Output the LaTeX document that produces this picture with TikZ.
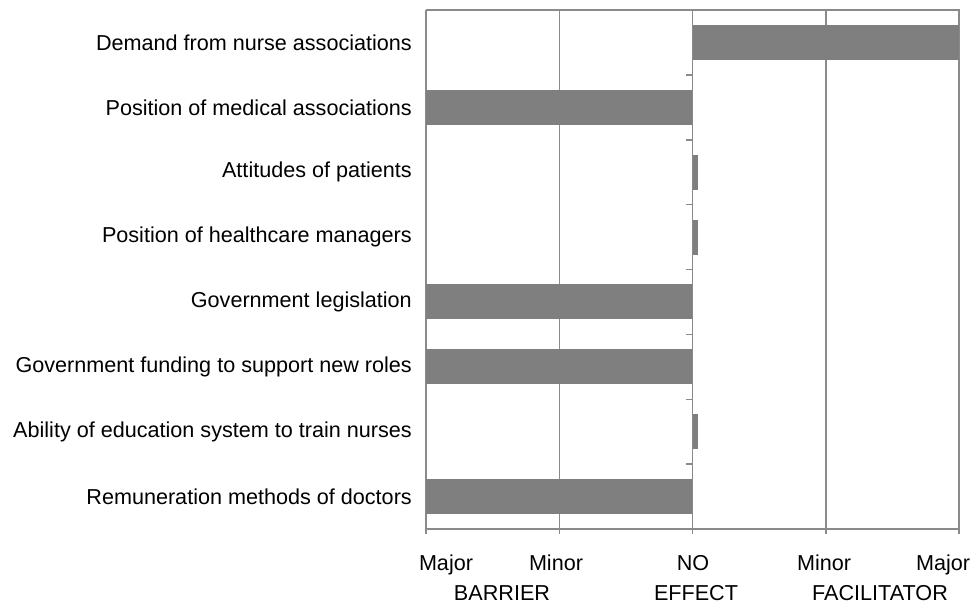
\documentclass[tikz,border=0pt]{standalone}
\usepackage{fontspec}
\setmainfont{Liberation Sans}
\usetikzlibrary{positioning}
\definecolor{gridgray}{HTML}{8A8A8A}
\definecolor{bargray}{HTML}{7F7F7F}

\tikzset{
  gridline/.style={draw=gridgray,line width=1.5pt},
  bar/.style={fill=bargray},
  rowlabel/.style={anchor=east,inner sep=0pt,font=\fontsize{21.6}{25}\selectfont},
  ticklabel/.style={anchor=base,inner sep=0pt,font=\fontsize{21.6}{25}\selectfont}
}

\begin{document}
\begin{tikzpicture}[x=1pt,y=-1pt]
        \useasboundingbox (0,0) rectangle (976,604);
        % corners of the plot
        \coordinate (tl) at (426,10);
        \coordinate (tr) at (959,10);
        \coordinate (bl) at (426,529);
        \coordinate (br) at (959,529);
        \coordinate (t0) at (692.5,10);
        \coordinate (b0) at (692.5,529);
        \coordinate (tm) at (559.25,10);
        \coordinate (bm) at (559.25,534);
        \coordinate (tp) at (825.75,10);
        \coordinate (bp) at (825.75,534);
        % grid and frame
        \begin{scope}[every path/.style={gridline}]
        \path (tl) -- (tr) -- (br);
        \path (tl) -- (426,534);
        \path (tm) -- (bm);
        \path (tp) -- (bp);
        \path (br) -- (959,534);
        \path (bl) -- (br);
        \end{scope}
        % bars
        \begin{scope}[every path/.style={bar}]
        \path (692.5,24.9) rectangle (959,59.9);
        \path (426,89.8) rectangle (692.5,124.8);
        \path (692.5,154.7) rectangle (697.5,189.7);
        \path (692.5,219.6) rectangle (697.5,254.6);
        \path (426,284.4) rectangle (692.5,319.4);
        \path (426,349.3) rectangle (692.5,384.3);
        \path (692.5,414.2) rectangle (697.5,449.2);
        \path (426,479.1) rectangle (692.5,514.1);
        \end{scope}
        % zero axis
        \begin{scope}[every path/.style={gridline}]
        \path (t0) -- (692.5,534);
        \path (686,74.9) -- (692.5,74.9);
        \path (686,139.8) -- (692.5,139.8);
        \path (686,204.6) -- (692.5,204.6);
        \path (686,269.5) -- (692.5,269.5);
        \path (686,334.4) -- (692.5,334.4);
        \path (686,399.3) -- (692.5,399.3);
        \path (686,464.1) -- (692.5,464.1);
        \end{scope}
        % factor names
        \begin{scope}[every node/.style={rowlabel}]
        \node (demand) at (412,42.4) {Demand from nurse associations};
        \node (medical) at (412,107.3) {Position of medical associations};
        \node (patients) at (412,172.2) {Attitudes of patients};
        \node (managers) at (412,237.1) {Position of healthcare managers};
        \node (legislation) at (412,301.9) {Government legislation};
        \node (funding) at (412,366.8) {Government funding to support new roles};
        \node (education) at (412,431.7) {Ability of education system to train nurses};
        \node (remuneration) at (412,496.6) {Remuneration methods of doctors};
        \end{scope}
        % scale
        \begin{scope}[every node/.style={ticklabel}]
        \node (majorb) at (446,570) {Major};
        \node (minorb) at (556,570) {Minor};
        \node (no) at (693,570) {NO};
        \node (minorf) at (824,570) {Minor};
        \node (majorf) at (943,570) {Major};
        \node (barrier) at (502,600) {BARRIER};
        \node (effect) at (696,600) {EFFECT};
        \node (facilitator) at (880,600) {FACILITATOR};
        \end{scope}
\end{tikzpicture}
\end{document}
